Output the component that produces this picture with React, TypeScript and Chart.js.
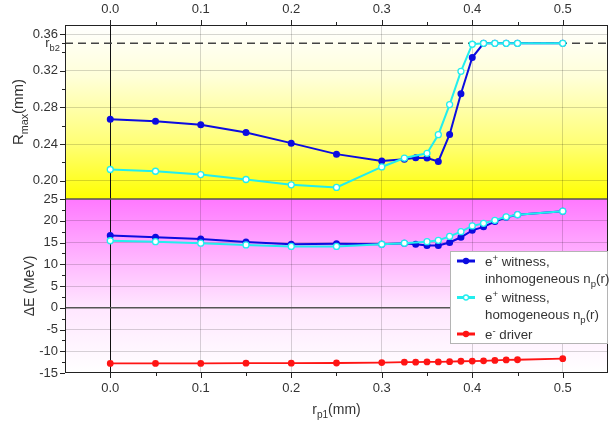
import React, { useEffect, useRef } from 'react';
import { Chart, registerables } from 'chart.js';
Chart.register(...registerables);

// ---- data ----
const X_INH = [0, 0.05, 0.1, 0.15, 0.2, 0.25, 0.3, 0.325, 0.3375, 0.35, 0.3625, 0.375, 0.3875, 0.4, 0.4125, 0.425, 0.4375, 0.45, 0.5];
const X_HOM = [0, 0.05, 0.1, 0.15, 0.2, 0.25, 0.3, 0.325, 0.35, 0.3625, 0.375, 0.3875, 0.4, 0.4125, 0.425, 0.4375, 0.45, 0.5];
const R_INH = [0.267, 0.265, 0.261, 0.2525, 0.241, 0.229, 0.2215, 0.2235, 0.2250, 0.2248, 0.2210, 0.2505, 0.295, 0.3345, 0.35, 0.35, 0.35, 0.35, 0.35];
const R_HOM = [0.2122, 0.2103, 0.2067, 0.2013, 0.1955, 0.1926, 0.215, 0.2247, 0.2299, 0.2502, 0.2831, 0.3194, 0.349, 0.35, 0.35, 0.35, 0.35, 0.35];
const E_INH = [16.6, 16.2, 15.8, 15.1, 14.6, 14.7, 14.6, 14.8, 14.6, 14.3, 14.3, 15.0, 16.2, 17.8, 18.6, 19.8, 20.8, 21.4, 22.2];
const E_HOM = [15.4, 15.2, 14.85, 14.45, 14.1, 14.1, 14.6, 14.85, 15.2, 15.5, 16.4, 17.5, 18.8, 19.4, 20.1, 20.9, 21.4, 22.2];
const E_DRV = [-12.8, -12.8, -12.8, -12.75, -12.75, -12.7, -12.6, -12.5, -12.5, -12.45, -12.45, -12.4, -12.3, -12.25, -12.2, -12.1, -12.0, -11.95, -11.7];
const R_B2 = 0.35;

// ---- ticks ----
const X_TICKS = [0, 0.1, 0.2, 0.3, 0.4, 0.5];
const X_MINOR = [0.05, 0.15, 0.25, 0.35, 0.45];
const R_TICKS = [0.2, 0.24, 0.28, 0.32, 0.36];
const R_MINOR = [0.22, 0.26, 0.3, 0.34, 0.35];
const E_TICKS = [-15, -10, -5, 0, 5, 10, 15, 20, 25];
const E_MINOR = [-12.5, -7.5, -2.5, 2.5, 7.5, 12.5, 17.5, 22.5];

const FONT = '"Liberation Sans", Arial, sans-serif';
const TXT = '#333';
const GRID = 'rgba(0,0,0,0.16)';
const BLUE = '#0c0ce0';
const CYAN = '#22eeee';
const RED = '#ff1414';

type Seg = { t: string; s?: 'sub' | 'sup' };

function drawRich(ctx: CanvasRenderingContext2D, segs: Seg[], x: number, cy: number, size: number, align: 'left' | 'center' | 'right') {
  const parts = segs.map((s) => {
    const fs = s.s ? size * 0.72 : size;
    ctx.font = `${fs}px ${FONT}`;
    return { ...s, fs, w: ctx.measureText(s.t).width };
  });
  const total = parts.reduce((a, p) => a + p.w, 0);
  let cx = align === 'center' ? x - total / 2 : align === 'right' ? x - total : x;
  const base = cy + size * 0.36;
  ctx.textAlign = 'left';
  ctx.textBaseline = 'alphabetic';
  for (const p of parts) {
    ctx.font = `${p.fs}px ${FONT}`;
    const dy = p.s === 'sub' ? size * 0.3 : p.s === 'sup' ? -size * 0.38 : 0;
    ctx.fillText(p.t, cx, base + dy);
    cx += p.w;
  }
}

const pts = (xs: number[], ys: number[]) => xs.map((x, i) => ({ x, y: ys[i] }));

const decoPlugin = {
  id: 'deco',
  beforeDraw(chart: any) {
    const { ctx, chartArea } = chart;
    const yR = chart.scales.yR;
    const yE = chart.scales.yE;
    const l = chartArea.left;
    const w = chartArea.right - chartArea.left;
    ctx.save();
    let g = ctx.createLinearGradient(0, yR.top, 0, yR.bottom);
    g.addColorStop(0, '#ffffff');
    g.addColorStop(0.3, '#ffffd8');
    g.addColorStop(0.7, '#ffff70');
    g.addColorStop(1, '#ffff00');
    ctx.fillStyle = g;
    ctx.fillRect(l, yR.top, w, yR.bottom - yR.top);
    g = ctx.createLinearGradient(0, yE.top, 0, yE.bottom);
    g.addColorStop(0, '#ff78ff');
    g.addColorStop(0.62, '#ffe6ff');
    g.addColorStop(1, '#ffffff');
    ctx.fillStyle = g;
    ctx.fillRect(l, yE.top, w, yE.bottom - yE.top);
    ctx.restore();
  },
  beforeDatasetsDraw(chart: any) {
    const { ctx, chartArea } = chart;
    const yR = chart.scales.yR;
    const yE = chart.scales.yE;
    ctx.save();
    const yb = yR.getPixelForValue(R_B2);
    ctx.strokeStyle = '#444';
    ctx.lineWidth = 1.5;
    ctx.setLineDash([8, 5]);
    ctx.beginPath();
    ctx.moveTo(chartArea.left, yb);
    ctx.lineTo(chartArea.right, yb);
    ctx.stroke();
    ctx.setLineDash([]);
    ctx.strokeStyle = '#555';
    ctx.lineWidth = 1.5;
    ctx.beginPath();
    ctx.moveTo(chartArea.left, yE.top);
    ctx.lineTo(chartArea.right, yE.top);
    ctx.stroke();
    ctx.restore();
  },
  afterDraw(chart: any) {
    const { ctx, chartArea } = chart;
    const xS = chart.scales.x;
    const yR = chart.scales.yR;
    const yE = chart.scales.yE;
    const { left, right, top, bottom } = chartArea;
    ctx.save();
    ctx.strokeStyle = '#222';
    ctx.lineWidth = 1;
    ctx.strokeRect(left + 0.5, top + 0.5, right - left - 1, bottom - top - 1);
    ctx.beginPath();
    const hx = (v: number, len: number) => {
      const p = Math.round(xS.getPixelForValue(v)) + 0.5;
      ctx.moveTo(p, bottom);
      ctx.lineTo(p, bottom + len);
      ctx.moveTo(p, top);
      ctx.lineTo(p, top - len);
    };
    X_TICKS.forEach((v) => hx(v, 5));
    X_MINOR.forEach((v) => hx(v, 3));
    const vy = (sc: any, v: number, len: number) => {
      const p = Math.round(sc.getPixelForValue(v)) + 0.5;
      ctx.moveTo(left, p);
      ctx.lineTo(left - len, p);
    };
    R_TICKS.forEach((v) => vy(yR, v, 5));
    R_MINOR.forEach((v) => vy(yR, v, 3));
    E_TICKS.forEach((v) => vy(yE, v, 5));
    E_MINOR.forEach((v) => vy(yE, v, 3));
    ctx.stroke();

    ctx.fillStyle = TXT;
    drawRich(ctx, [{ t: 'r' }, { t: 'b2', s: 'sub' }], left - 5, yR.getPixelForValue(R_B2) - 1, 13, 'right');
    ctx.save();
    ctx.translate(18, (yR.top + yR.bottom) / 2);
    ctx.rotate(-Math.PI / 2);
    drawRich(ctx, [{ t: 'R' }, { t: 'max', s: 'sub' }, { t: '(mm)' }], 0, 0, 15, 'center');
    ctx.restore();
    ctx.save();
    ctx.translate(29, (yE.top + yE.bottom) / 2);
    ctx.rotate(-Math.PI / 2);
    drawRich(ctx, [{ t: 'ΔE (MeV)' }], 0, 0, 14, 'center');
    ctx.restore();
    drawRich(ctx, [{ t: 'r' }, { t: 'p1', s: 'sub' }, { t: '(mm)' }], (left + right) / 2, 409, 14, 'center');

    const lx = 450, ly = 251, lw = right - 450, lh = 93;
    ctx.fillStyle = '#ffffff';
    ctx.fillRect(lx, ly, lw, lh);
    ctx.strokeStyle = '#b4b4b4';
    ctx.lineWidth = 1;
    ctx.strokeRect(lx + 0.5, ly + 0.5, lw - 1, lh - 1);
    const entries = [
      { c: BLUE, f: BLUE, y: 261, lines: [[{ t: 'e' }, { t: '+', s: 'sup' }, { t: ' witness,' }], [{ t: 'inhomogeneous n' }, { t: 'p', s: 'sub' }, { t: '(r)' }]] },
      { c: CYAN, f: '#ffffff', y: 297.5, lines: [[{ t: 'e' }, { t: '+', s: 'sup' }, { t: ' witness,' }], [{ t: 'homogeneous n' }, { t: 'p', s: 'sub' }, { t: '(r)' }]] },
      { c: RED, f: RED, y: 334, lines: [[{ t: 'e' }, { t: '-', s: 'sup' }, { t: ' driver' }]] },
    ];
    for (const e of entries) {
      ctx.strokeStyle = e.c;
      ctx.lineWidth = 3;
      ctx.beginPath();
      ctx.moveTo(457, e.y);
      ctx.lineTo(475, e.y);
      ctx.stroke();
      ctx.beginPath();
      ctx.arc(466, e.y, 2.5, 0, Math.PI * 2);
      ctx.fillStyle = e.f;
      ctx.fill();
      ctx.lineWidth = 1.3;
      ctx.stroke();
      ctx.fillStyle = TXT;
      e.lines.forEach((ln, i) => drawRich(ctx, ln as Seg[], 485, e.y + i * 17, 13.3, 'left'));
    }
    ctx.restore();
  },
};

export default function App() {
  const ref = useRef<HTMLCanvasElement>(null);
  useEffect(() => {
    const tickFont = { family: FONT, size: 13 };
    const chart = new Chart(ref.current as HTMLCanvasElement, {
      type: 'line',
      data: {
        datasets: [
          {
            label: 'R hom', data: pts(X_HOM, R_HOM), yAxisID: 'yR', xAxisID: 'x', order: 0,
            borderColor: CYAN, borderWidth: 2, pointRadius: 3, pointBackgroundColor: '#ffffff', pointBorderColor: CYAN, pointBorderWidth: 1.3,
          },
          {
            label: 'R inh', data: pts(X_INH, R_INH), yAxisID: 'yR', xAxisID: 'x', order: 1,
            borderColor: BLUE, borderWidth: 2, pointRadius: 2.5, pointBackgroundColor: BLUE, pointBorderColor: BLUE,
          },
          {
            label: 'E hom', data: pts(X_HOM, E_HOM), yAxisID: 'yE', xAxisID: 'x', order: 0,
            borderColor: CYAN, borderWidth: 2, pointRadius: 3, pointBackgroundColor: '#ffffff', pointBorderColor: CYAN, pointBorderWidth: 1.3,
          },
          {
            label: 'E inh', data: pts(X_INH, E_INH), yAxisID: 'yE', xAxisID: 'x', order: 1,
            borderColor: BLUE, borderWidth: 2, pointRadius: 2.5, pointBackgroundColor: BLUE, pointBorderColor: BLUE,
          },
          {
            label: 'E drv', data: pts(X_INH, E_DRV), yAxisID: 'yE', xAxisID: 'x', order: 2,
            borderColor: RED, borderWidth: 1.8, pointRadius: 2.5, pointBackgroundColor: RED, pointBorderColor: RED,
          },
        ],
      },
      options: {
        animation: false,
        responsive: false,
        devicePixelRatio: 1,
        layout: { padding: { left: 0, right: 7, top: 0, bottom: 0 } },
        plugins: { legend: { display: false }, tooltip: { enabled: false } },
        scales: {
          x: {
            type: 'linear', position: 'bottom', min: -0.05, max: 0.55,
            afterBuildTicks: (s: any) => { s.ticks = X_TICKS.map((v) => ({ value: v })); },
            afterFit: (s: any) => { s.height = 54; },
            ticks: { font: tickFont, color: TXT, padding: 8, autoSkip: false, maxRotation: 0, callback: (v: any) => Number(v).toFixed(1) },
            grid: { drawTicks: false, color: (c: any) => (c.tick && Math.abs(c.tick.value) < 1e-9 ? '#111' : GRID), lineWidth: 1 },
            border: { display: false },
          },
          x2: {
            type: 'linear', position: 'top', min: -0.05, max: 0.55,
            afterBuildTicks: (s: any) => { s.ticks = X_TICKS.map((v) => ({ value: v })); },
            afterFit: (s: any) => { s.height = 25; },
            ticks: { font: tickFont, color: TXT, padding: 8, autoSkip: false, maxRotation: 0, callback: (v: any) => Number(v).toFixed(1) },
            grid: { drawTicks: false, drawOnChartArea: false },
            border: { display: false },
          },
          yR: {
            type: 'linear', position: 'left', stack: 'panels', stackWeight: 1, weight: 1, min: 0.18, max: 0.37,
            afterBuildTicks: (s: any) => { s.ticks = R_TICKS.map((v) => ({ value: v })); },
            afterFit: (s: any) => { s.width = 65; },
            ticks: { font: tickFont, color: TXT, padding: 7, autoSkip: false, callback: (v: any) => Number(v).toFixed(2) },
            grid: { drawTicks: false, color: GRID },
            border: { display: false },
          },
          yE: {
            type: 'linear', position: 'left', stack: 'panels', stackWeight: 1, weight: 0, min: -15, max: 25,
            afterBuildTicks: (s: any) => { s.ticks = E_TICKS.map((v) => ({ value: v })); },
            afterFit: (s: any) => { s.width = 65; },
            ticks: { font: tickFont, color: TXT, padding: 7, autoSkip: false, callback: (v: any) => String(v) },
            grid: {
              drawTicks: false,
              color: (c: any) => {
                const v = c.tick ? c.tick.value : NaN;
                if (v === 0) return '#555';
                if (v === 25 || v === -15) return 'rgba(0,0,0,0)';
                return GRID;
              },
              lineWidth: (c: any) => (c.tick && c.tick.value === 0 ? 1.5 : 1),
            },
            border: { display: false },
          },
        },
      } as any,
      plugins: [decoPlugin],
    });
    return () => chart.destroy();
  }, []);
  return (
    <div style={{ position: 'absolute', left: 0, top: 0, width: 615, height: 427, background: '#ffffff' }}>
      <canvas ref={ref} width={615} height={427} style={{ display: 'block', width: 615, height: 427 }} />
    </div>
  );
}
